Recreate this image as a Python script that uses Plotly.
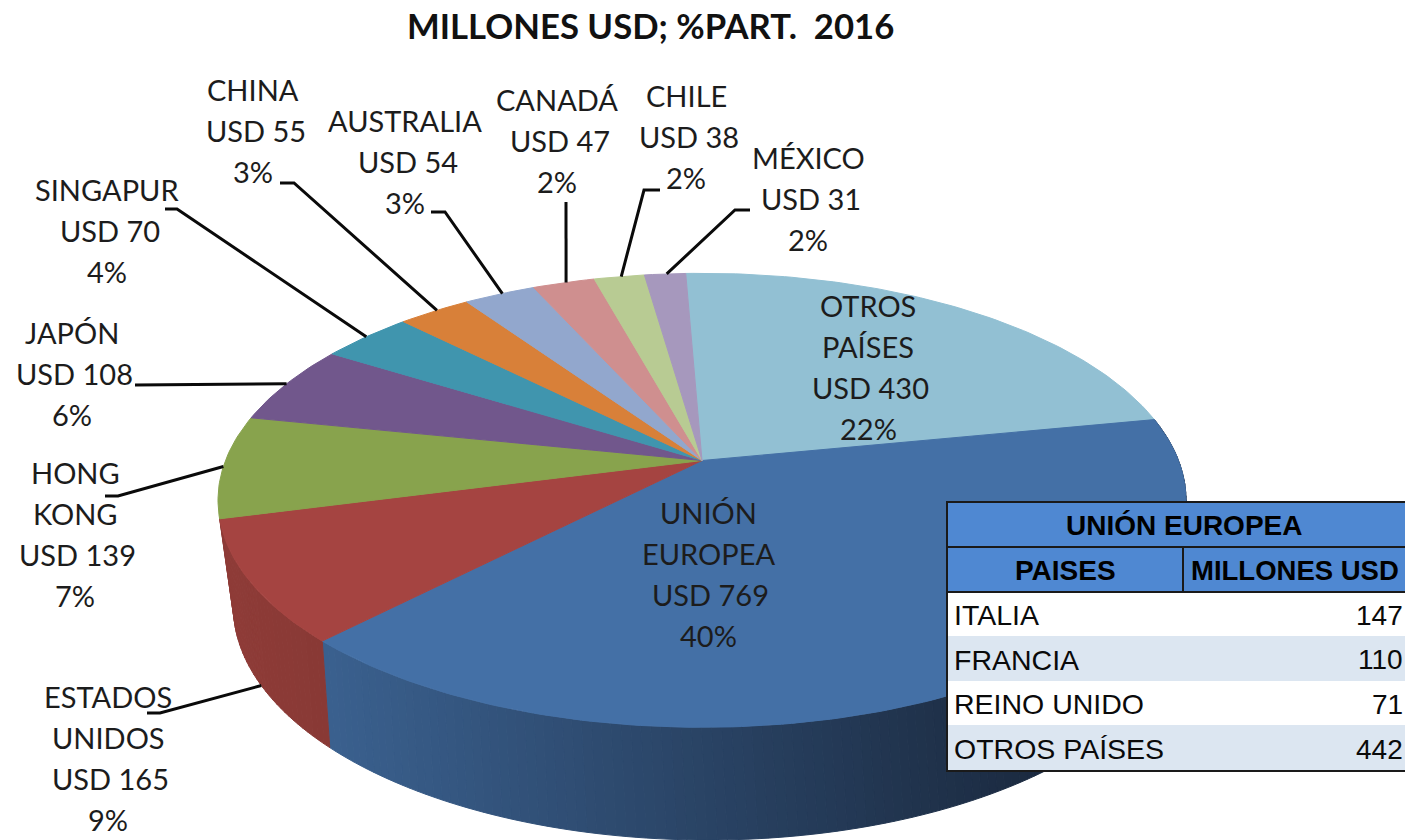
import math
import plotly.graph_objects as go

TITLE = "MILLONES USD; %PART.  2016"
# Slices, clockwise from the top of the pie
names = [["OTROS", "PAÍSES"], ["UNIÓN", "EUROPEA"], ["ESTADOS", "UNIDOS"], ["HONG", "KONG"], ["JAPÓN"],
         ["SINGAPUR"], ["CHINA"], ["AUSTRALIA"], ["CANADÁ"], ["CHILE"], ["MÉXICO"]]
values = [430, 769, 165, 139, 108, 70, 55, 54, 47, 38, 31]
percents = [22, 40, 9, 7, 6, 4, 3, 3, 2, 2, 2]
colors = ["#92c0d3", "#4470a6", "#a54441", "#88a34d", "#71578c", "#4095ae", "#d88039",
          "#92a7cd", "#cf8f8f", "#b8cb93", "#a698bd"]
# Table
table_title = "UNIÓN EUROPEA"
table_head = ["PAISES", "MILLONES USD"]
table_countries = ["ITALIA", "FRANCIA", "REINO UNIDO", "OTROS PAÍSES"]
table_values = [147, 110, 71, 442]

# Layout (page pixels)
W, H = 1405, 840
CX, CY, A, B, P = 702, 460.5, 476.5, 220, 0.1754
CX2, CY2, A2, B2, P2 = 708, 560, 465, 224, 0.2
START = -2.3
FONT = "Lato"
INK = "#1c1c1c"
label_pos = [(868, 305), (708, 512), (108, 696), (75, 472), (72, 332), (107, 189),
             (253, 89), (405, 120), (557, 99), (686, 95), (808, 157)]
LINE = 41
elbows = {2: [(147, 713), (160, 713)], 3: [(105, 496), (118, 496)], 4: [(135, 385)],
          5: [(165, 209), (177, 209)], 6: [(280, 183), (294, 183)], 7: [(431, 212), (445, 212)],
          8: [(566, 202)], 9: [(660, 190), (644, 190)], 10: [(750, 210), (735, 210)]}


def top(t):
    r = math.radians(t)
    u, v = math.sin(r), -math.cos(r)
    d = 1 - P * v
    return CX + A * u / d, CY + B * v / d


def bottom(t):
    r = math.radians(t)
    u, v = math.sin(r), -math.cos(r)
    d = 1 - P2 * v
    return CX2 + A2 * u / d, CY2 + B2 * v / d


def mix(c1, c2, f):
    return "rgb(%d,%d,%d)" % tuple(round(a + (b - a) * f) for a, b in zip(c1, c2))


def steps(a, b, n):
    return [a + (b - a) * i / n for i in range(n + 1)]


total = sum(values)
edges = [START]
for val in values:
    edges.append(edges[-1] + val / total * 360)

fig = go.Figure()


def poly(xs, ys, color):
    fig.add_trace(go.Scatter(x=xs, y=ys, mode="lines", fill="toself", fillcolor=color,
                             line=dict(color=color, width=1), hoverinfo="skip", showlegend=False))


# Side walls
def wall(a, b, c1, c2, x1, x2):
    n = max(2, int(b - a))
    ts = steps(a, b, n)
    for t0, t1 in zip(ts, ts[1:]):
        p = [top(t0), top(t1), bottom(t1), bottom(t0)]
        f = min(1, max(0, ((p[0][0] + p[1][0]) / 2 - x1) / (x2 - x1)))
        poly([q[0] for q in p] + [p[0][0]], [q[1] for q in p] + [p[0][1]], mix(c1, c2, f))


wall(edges[1], edges[2], (0x3a, 0x60, 0x8e), (0x1b, 0x2a, 0x40), 330, 1030)
wall(edges[2], edges[3], (0x8e, 0x3b, 0x37), (0x88, 0x39, 0x35), 230, 330)

# Top surface
for i, col in enumerate(colors):
    pts = [top(t) for t in steps(edges[i], edges[i + 1], max(4, int(edges[i + 1] - edges[i])))]
    poly([CX] + [q[0] for q in pts] + [CX], [CY] + [q[1] for q in pts] + [CY], col)

# Leader lines
for i, elbow in elbows.items():
    frac = 0.5 if i < 6 else 0.54
    mid = edges[i] + (edges[i + 1] - edges[i]) * frac
    end = bottom(mid) if i == 2 else top(mid)
    xs = [q[0] for q in elbow] + [end[0]]
    ys = [q[1] for q in elbow] + [end[1]]
    fig.add_trace(go.Scatter(x=xs, y=ys, mode="lines", line=dict(color="#0a0a0a", width=3),
                             hoverinfo="skip", showlegend=False))

annotations = []


def text(x, y, s, size, color=INK, family=FONT, anchor="center", bold=False):
    annotations.append(dict(x=x, y=y, xref="x", yref="y", text=f"<b>{s}</b>" if bold else s,
                            showarrow=False, xanchor=anchor, yanchor="middle",
                            font=dict(family=family, size=size, color=color)))


text(650, 25, TITLE, 34.7, color="#111111", bold=True)
for nm, val, pct, (x, y) in zip(names, values, percents, label_pos):
    lines = nm + [f"USD {val}", f"{pct}%"]
    for k, ln in enumerate(lines):
        dx = 2.5 if ln.startswith("USD") else 0
        text(x + dx, y + k * LINE, ln, 29)

# Table
TX0, TX1, TDIV = 947, 1420, 1183
rows = [502, 547, 592, 636, 681, 725, 771]
shapes = []


def rect(x0, y0, x1, y1, fill, lw=0, lc="#1a1a1a"):
    shapes.append(dict(type="rect", xref="x", yref="y", x0=x0, y0=y0, x1=x1, y1=y1, fillcolor=fill,
                       line=dict(width=lw, color=lc), layer="above"))


rect(TX0, rows[0], TX1, rows[6], "#ffffff")
rect(TX0, rows[0], TX1, rows[2], "#4f88d2", 2)
rect(TX0, rows[1], TDIV, rows[2], "#4f88d2", 2)
rect(TDIV, rows[1], TX1, rows[2], "#4f88d2", 2)
rect(TX0, rows[3], TX1, rows[4], "#dce6f1")
rect(TX0, rows[5], TX1, rows[6], "#dce6f1")
rect(TX0, rows[0], TX1, rows[6], "rgba(0,0,0,0)", 2)
TF = "Liberation Sans"
text(1184, 525, table_title, 28, color="#000000", family=TF, bold=True)
text(1065, 570, table_head[0], 28, color="#000000", family=TF, bold=True)
text(1189, 570, table_head[1], 27.5, color="#000000", family=TF, anchor="left", bold=True)
for i, (c, v) in enumerate(zip(table_countries, table_values)):
    y = (rows[i + 2] + rows[i + 3]) / 2 + 1
    text(952, y, c, 28.5, color="#0a0a0a", family=TF, anchor="left")
    text(1405, y, str(v), 28, color="#0a0a0a", family=TF, anchor="right")

fig.update_layout(width=W, height=H, margin=dict(l=0, r=0, t=0, b=0), paper_bgcolor="white",
                  plot_bgcolor="white", showlegend=False, annotations=annotations, shapes=shapes,
                  xaxis=dict(range=[0, W], visible=False, fixedrange=True),
                  yaxis=dict(range=[H, 0], visible=False, fixedrange=True))
fig.write_html("out.html", config={"displayModeBar": False},
               post_script="document.body.style.margin='0';document.body.style.overflow='hidden';")
